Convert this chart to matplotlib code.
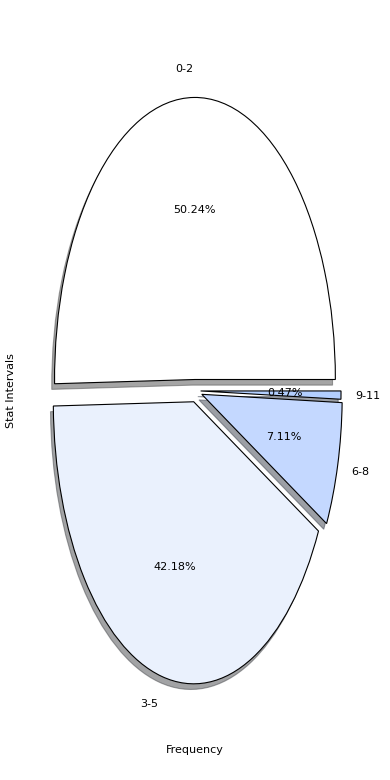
import matplotlib
matplotlib.use("Agg")
import matplotlib.pyplot as plt

labels = ["0-2", "3-5", "6-8", "9-11"]
values = [50.24, 42.18, 7.11, 0.47]
colors = ["#ffffff", "#eaf1fd", "#c4d8ff", "#b3cfff"]
explode = [0.04, 0.04, 0.05, 0.04]

fig = plt.figure(figsize=(3.9, 7.8), dpi=100)
ax = fig.add_axes([0.05, 0.047, 0.9, 0.904])
ax.pie(values, labels=labels, colors=colors, explode=explode,
       autopct="%1.2f%%", startangle=0,
       shadow={"ox": -0.0144, "oy": -0.0144},
       wedgeprops={"edgecolor": "black", "linewidth": 0.8},
       textprops={"fontsize": 8})
ax.set_aspect("auto")
ax.set_xlabel("Frequency", fontsize=8, labelpad=1)
ax.set_ylabel("Stat Intervals", fontsize=8, labelpad=2.5)
plt.savefig("out.png")
